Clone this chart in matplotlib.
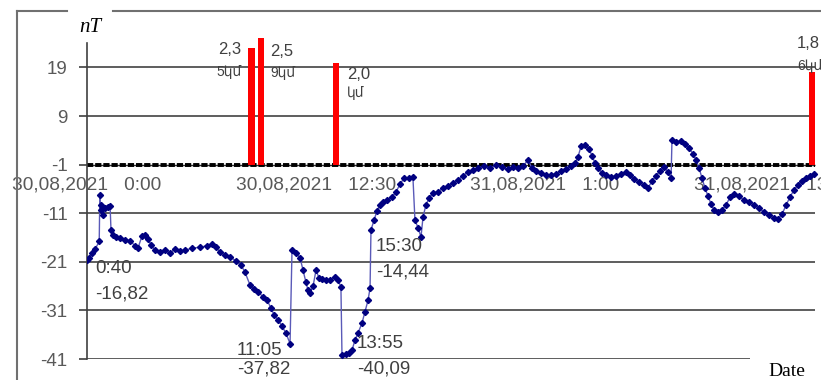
import matplotlib
matplotlib.use("Agg")
import matplotlib.pyplot as plt
from matplotlib.lines import Line2D

# magnetic field, hours counted from 30.08.2021 0:00
hours = [0.00, 0.11, 0.27, 0.44, 0.667, 0.70, 0.74, 0.76, 0.87, 0.98,
         1.15, 1.26, 1.31, 1.42, 1.58, 1.80, 2.07, 2.35, 2.62, 2.78,
         3.00, 3.17, 3.33, 3.49, 3.71, 3.98, 4.26, 4.53, 4.80, 5.08,
         5.35, 5.73, 6.17, 6.55, 6.82, 7.04, 7.26, 7.53, 7.81, 8.13,
         8.41, 8.62, 8.90, 9.12, 9.33, 9.61, 9.83, 10.04, 10.21, 10.43,
         10.64, 10.86, 11.083, 11.19, 11.41, 11.63, 11.79, 11.95, 12.06, 12.17,
         12.34, 12.50, 12.66, 12.83, 13.05, 13.26, 13.54, 13.70, 13.86, 13.917,
         14.14, 14.30, 14.47, 14.63, 14.79, 15.01, 15.17, 15.34, 15.45, 15.50,
         15.67, 15.83, 15.99, 16.16, 16.38, 16.65, 16.87, 17.09, 17.30, 17.58,
         17.79, 17.90, 18.07, 18.23, 18.34, 18.50, 18.67, 18.89, 19.16, 19.43,
         19.71, 19.98, 20.25, 20.52, 20.80, 21.07, 21.34, 21.67, 22.00, 22.33,
         22.65, 22.98, 23.25, 23.53, 23.80, 24.07, 24.29, 24.51, 24.78, 25.05,
         25.33, 25.60, 25.87, 26.15, 26.42, 26.64, 26.80, 26.97, 27.18, 27.40,
         27.57, 27.73, 27.89, 28.11, 28.33, 28.60, 28.88, 29.15, 29.42, 29.64,
         29.86, 30.13, 30.40, 30.62, 30.84, 31.06, 31.28, 31.50, 31.71, 31.88,
         31.93, 32.15, 32.42, 32.64, 32.86, 33.08, 33.24, 33.41, 33.57, 33.73,
         33.90, 34.06, 34.22, 34.44, 34.66, 34.88, 35.10, 35.32, 35.59, 35.86,
         36.14, 36.41, 36.68, 36.95, 37.23, 37.50, 37.72, 37.94, 38.16, 38.37,
         38.59, 38.81, 39.03, 39.25, 39.47, 39.68]
field_nT = [-20.6, -20.2, -19.2, -18.4, -16.82, -7.3, -9.3, -10.3, -11.4, -9.9,
            -9.7, -9.5, -14.5, -15.5, -15.9, -16.1, -16.5, -16.7, -17.7, -18.2,
            -15.7, -15.5, -16.3, -17.5, -18.6, -19.0, -18.6, -19.2, -18.4, -18.8,
            -18.6, -18.2, -18.0, -17.7, -17.3, -18.0, -19.0, -19.6, -20.0, -20.8,
            -21.7, -23.1, -25.8, -26.6, -27.2, -28.2, -28.9, -30.5, -31.9, -33.0,
            -34.2, -35.7, -37.82, -18.6, -19.2, -20.2, -22.7, -25.2, -26.8, -27.4,
            -26.0, -22.7, -24.3, -24.5, -24.7, -24.7, -24.1, -24.7, -26.2, -40.09,
            -40.0, -39.8, -39.1, -37.1, -35.7, -33.6, -31.3, -28.9, -26.4, -14.44,
            -12.4, -10.5, -9.3, -8.7, -8.3, -7.7, -6.6, -5.0, -3.8, -3.8,
            -3.6, -12.4, -14.0, -15.9, -11.8, -9.3, -7.9, -6.8, -6.6, -5.8,
            -5.4, -4.8, -4.2, -3.3, -2.5, -2.1, -1.7, -1.3, -1.7, -1.1,
            -1.5, -1.9, -1.5, -1.7, -1.3, -0.05, -1.7, -2.3, -2.7, -3.1,
            -3.1, -2.9, -2.3, -1.9, -1.3, -0.7, 0.6, 2.8, 3.0, 2.2,
            0.8, -0.7, -1.7, -2.7, -3.1, -3.6, -3.3, -2.9, -2.5, -3.1,
            -4.0, -4.6, -5.2, -5.8, -4.4, -3.3, -2.3, -1.5, -2.5, -3.8,
            4.1, 3.6, 3.9, 3.2, 2.4, 1.2, -0.05, -1.7, -3.8, -5.8,
            -7.5, -9.1, -10.3, -10.8, -10.3, -9.3, -7.7, -7.0, -7.5, -8.3,
            -8.7, -9.3, -9.9, -10.8, -11.4, -12.0, -12.2, -11.2, -9.3, -7.7,
            -6.2, -5.2, -4.4, -3.8, -3.3, -2.9]

# earthquakes: time, magnitude, depth
quake_hours = [8.98, 9.50, 13.59, 39.57]
quake_mag = [2.3, 2.5, 2.0, 1.8]
quake_depth = ["5կմ", "9կմ", "կմ", "6կմ"]

# marked points on the curve
note_times = ["0:40", "11:05", "13:55", "15:30"]
note_hours = [40 / 60, 11 + 5 / 60, 13 + 55 / 60, 15.5]
note_values = [-16.82, -37.82, -40.09, -14.44]

tick_hours = [0, 12.5, 25, 37.5]
tick_labels = ["30,08,2021   0:00", "30,08,2021   12:30",
               "31,08,2021   1:00", "31,08,2021   13:30"]
y_ticks = [19, 9, -1, -11, -21, -31, -41]

sans = ["Liberation Sans", "DejaVu Sans"]
serif = "Liberation Serif"
grey_txt = "#595959"
dark_txt = "#404040"

fig = plt.figure(figsize=(8.21, 3.80), dpi=100)
ax = fig.add_axes([87 / 821, 21 / 380, 731 / 821, 325.6 / 380])
ax.set_xlim(0, 39.9)
ax.set_ylim(-41, 26)

for s in ["top", "right", "bottom"]:
    ax.spines[s].set_visible(False)
ax.spines["left"].set_color(dark_txt)
ax.spines["left"].set_linewidth(1.2)
ax.spines["left"].set_bounds(-41, 24)

ax.set_xticks([])
ax.set_yticks(y_ticks)
ax.set_yticklabels([str(v) for v in y_ticks], family=sans)
ax.tick_params(axis="y", length=6, width=1.2, color=dark_txt, pad=8,
               labelsize=13.5, labelcolor=grey_txt)

# horizontal grid
for v in y_ticks:
    if v == -1:
        continue
    end = 36.2 if v == -41 else 39.74
    ax.hlines(v, 0, end, color="#505050", lw=1.3, zorder=1)
# category axis at -1
ax.hlines(-1, 0, 39.74, color="#303030", lw=1.0, zorder=2)
ax.hlines(-1, 0, 39.74, color="black", lw=2.8, linestyles=[(0, (1.6, 0.5))], zorder=2)

for h, lab in zip(tick_hours, tick_labels):
    ax.text(h, -5.2, lab, ha="center", va="center", fontsize=13.8,
            color=grey_txt, family=sans, clip_on=False, zorder=1)

# quake bars, height = magnitude x 10 above the axis line
tops = [10 * m for m in quake_mag]
ax.bar(quake_hours, [t + 1 for t in tops], bottom=-1, width=0.36,
       color="#ff0000", zorder=3, clip_on=False)

bar_offsets = [(-10, -2, -24, "right"), (9, -13, -35, "left"),
               (11, -12, -30, "left"), (-15, 29, 6, "left")]
for h, t, m, d, (dx, dy1, dy2, ha) in zip(quake_hours, tops, quake_mag, quake_depth, bar_offsets):
    ax.annotate(f"{m:.1f}".replace(".", ","), (h, t), xytext=(dx, dy1),
                textcoords="offset pixels", ha=ha, va="center", fontsize=12,
                color=dark_txt, family=sans, annotation_clip=False)
    ax.annotate(d, (h, t), xytext=(dx, dy2), textcoords="offset pixels",
                ha=ha, va="center", fontsize=10, color=dark_txt,
                family=sans, annotation_clip=False)

ax.plot(hours, field_nT, color="#5a5ab8", lw=1.0, marker="D", ms=3.1,
        mfc="#000080", mec="#000080", zorder=4)

note_offsets = [(-4, -27.5, -52.5), (-53, -6.5, -25.5), (15, 10.6, -14.4), (5, -17, -42)]
for h, v, t, (dx, dy1, dy2) in zip(note_hours, note_values, note_times, note_offsets):
    ax.annotate(t, (h, v), xytext=(dx, dy1), textcoords="offset pixels",
                ha="left", va="center", fontsize=13.5, color=dark_txt,
                family=sans, annotation_clip=False, zorder=5)
    ax.annotate(f"{v:.2f}".replace(".", ","), (h, v), xytext=(dx, dy2),
                textcoords="offset pixels", ha="left", va="center",
                fontsize=13.5, color=dark_txt, family=sans,
                annotation_clip=False, zorder=5)

fig.text(90 / 821, 1 - 28 / 380, "nT", family=serif, style="italic",
         fontsize=15, ha="center", va="center")
fig.text(787 / 821, 1 - 371 / 380, "Date", family=serif, fontsize=14,
         ha="center", va="center")

# outer frame
fx = 17 / 821
fy = 1 - 11 / 380
fig.add_artist(Line2D([fx, fx], [0, fy], color="#707070", lw=1.5))
fig.add_artist(Line2D([fx, 67 / 821], [fy, fy], color="#707070", lw=1.5))
fig.add_artist(Line2D([113 / 821, 1], [fy, fy], color="#707070", lw=1.5))

fig.savefig("out.png", dpi=100)
